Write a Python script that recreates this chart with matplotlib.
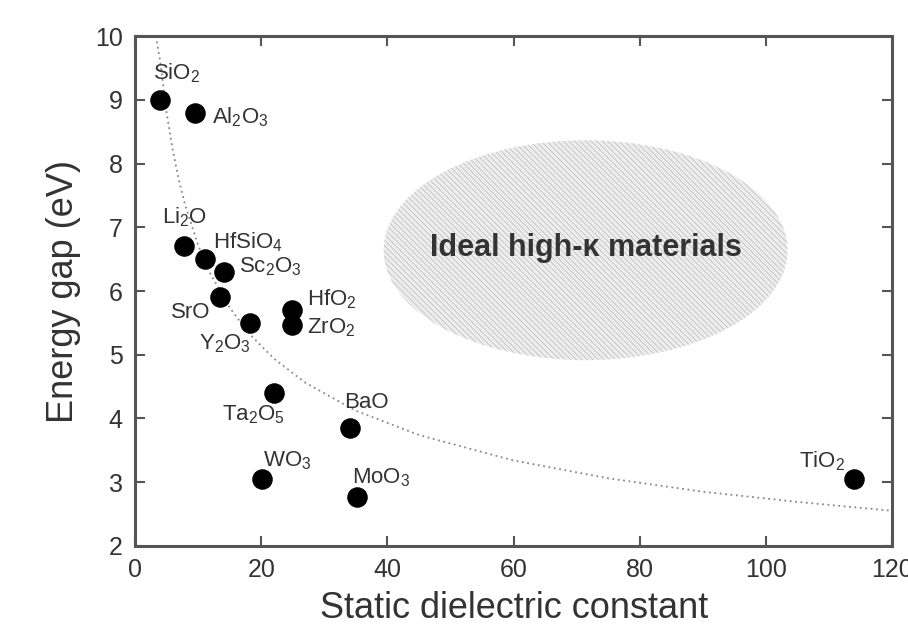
import numpy as np
import matplotlib
matplotlib.use("Agg")
import matplotlib.pyplot as plt
from matplotlib.patches import Ellipse

plt.rcParams['font.family'] = ['Liberation Sans', 'DejaVu Sans']
plt.rcParams['mathtext.fontset'] = 'custom'
plt.rcParams['mathtext.rm'] = 'Liberation Sans'
plt.rcParams['hatch.linewidth'] = 0.7

# oxides: static dielectric constant vs band gap
names = ['SiO$_2$', 'Al$_2$O$_3$', 'Li$_2$O', 'HfSiO$_4$', 'Sc$_2$O$_3$', 'SrO',
         'Y$_2$O$_3$', 'HfO$_2$', 'ZrO$_2$', 'Ta$_2$O$_5$', 'BaO', 'WO$_3$',
         'MoO$_3$', 'TiO$_2$']
kappa = [3.9, 9.5, 7.8, 11.1, 14.1, 13.5, 18.2, 24.9, 24.9, 22.1, 34.0, 20.1, 35.2, 114.0]
gap = [9.0, 8.8, 6.7, 6.5, 6.3, 5.9, 5.5, 5.7, 5.47, 4.4, 3.85, 3.05, 2.76, 3.05]

# dotted guide curve
curve_k = [3.3, 4, 5, 6, 7, 8, 10, 12, 15, 18, 22, 27, 35, 45, 60, 75, 90, 105, 120]
curve_eg = [10.0, 9.6, 8.8, 8.2, 7.72, 7.33, 6.72, 6.26, 5.74, 5.34, 4.94, 4.56,
            4.12, 3.74, 3.34, 3.06, 2.85, 2.69, 2.55]

# label offsets in points, alignment
offs = [(-5, 19, 'left'), (12, -3, 'left'), (0, 21, 'center'), (6, 12, 'left'),
        (11, 4, 'left'), (-7, -11, 'right'), (1, -15, 'right'), (11, 8, 'left'),
        (11, -2, 'left'), (-15, -16, 'center'), (-4, 18, 'left'), (1, 13, 'left'),
        (-4, 14, 'left'), (-7, 13, 'right')]

fig = plt.figure(figsize=(9.08, 6.34), dpi=100)
ax = fig.add_axes([0.1487, 0.139, 0.834, 0.804])

ell = Ellipse((71.4, 6.64), 64.0, 3.45, facecolor='#eeeeee', edgecolor='#c6c6c6',
              linewidth=0, hatch='\\\\\\\\\\\\', zorder=1)
ax.add_patch(ell)
ax.text(71.4, 6.67, 'Ideal high-\u03ba materials', ha='center', va='center',
        fontsize=22, fontweight='bold', color='#333333', zorder=3)

ax.plot(curve_k, curve_eg, linestyle=(0, (1, 2)), color='#888888', lw=1.3, zorder=2)
ax.scatter(kappa, gap, s=190, color='black', zorder=4)

for n, k, e, (dx, dy, ha) in zip(names, kappa, gap, offs):
    ax.annotate(n, (k, e), xytext=(dx, dy), textcoords='offset points',
                ha=ha, va='center', fontsize=16, color='#333333', zorder=5)

ax.set_xlim(0, 120)
ax.set_ylim(2, 10)
ax.set_xticks(np.arange(0, 121, 20))
ax.set_yticks(np.arange(2, 11, 1))
ax.tick_params(direction='in', length=7, width=1.5, top=True, right=True,
               labelsize=18, colors='#555555', labelcolor='#333333', pad=9)
for sp in ax.spines.values():
    sp.set_linewidth(2.2)
    sp.set_color('#555555')
ax.set_xlabel('Static dielectric constant', fontsize=26, color='#333333', labelpad=6)
ax.set_ylabel('Energy gap (eV)', fontsize=26, color='#333333', labelpad=10)

fig.savefig('out.png', dpi=100)
